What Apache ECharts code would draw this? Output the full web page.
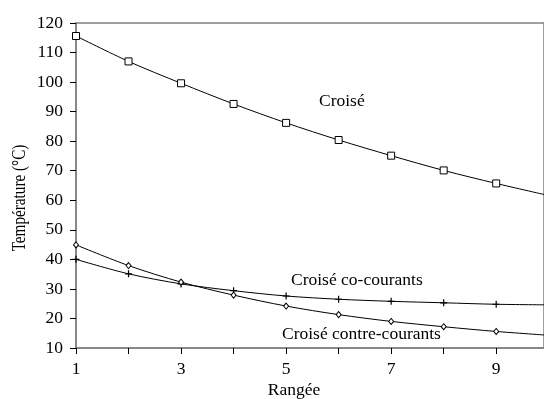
<!DOCTYPE html>
<html>
<head>
<meta charset="utf-8">
<script src="https://cdn.jsdelivr.net/npm/echarts@6/dist/echarts.min.js"></script>
<style>
  html, body { margin: 0; padding: 0; background: #fff; }
  #chart { width: 544px; height: 399px; }
</style>
</head>
<body>
<div id="chart"></div>
<script>
// Rangée (row number) along the x axis
const rangees = [1, 2, 3, 4, 5, 6, 7, 8, 9, 10];

// Température (°C) per row for each exchanger arrangement
const croise = [115.6, 107.0, 99.6, 92.6, 86.2, 80.4, 75.1, 70.1, 65.7, 61.6];
const croiseCoCourants = [40.0, 35.1, 31.7, 29.4, 27.6, 26.5, 25.8, 25.3, 24.8, 24.6];
const croiseContreCourants = [44.9, 37.9, 32.3, 27.9, 24.2, 21.3, 19.0, 17.2, 15.6, 14.3];

const yTicks = { min: 10, max: 120, step: 10 };
// the plot runs out at the right edge just before row 10
const xTicks = { min: 1, max: 9.91, step: 1 };

const serif = '"Liberation Serif", "DejaVu Serif", serif';
const axisGray = '#808080';

function pairs(values) {
  return rangees.map((r, i) => [r, values[i]]);
}

const chart = echarts.init(document.getElementById('chart'), null, { renderer: 'canvas' });

const baseSeries = {
  type: 'line',
  smooth: 0.3,
  lineStyle: { color: '#000', width: 1 },
  itemStyle: { color: '#fff', borderColor: '#000', borderWidth: 1 },
  emphasis: { disabled: true },
  animation: false,
  clip: true
};

chart.setOption({
  animation: false,
  grid: {
    left: 76, top: 23, right: 0, bottom: 51,
    show: true, borderColor: axisGray, borderWidth: 1.5, backgroundColor: 'transparent'
  },
  xAxis: {
    type: 'value',
    min: xTicks.min, max: xTicks.max, interval: xTicks.step,
    axisLine: { lineStyle: { color: axisGray, width: 1.5 } },
    axisTick: { show: true, inside: false, length: 6, lineStyle: { color: '#000', width: 1 } },
    splitLine: { show: false },
    axisLabel: {
      margin: 12, showMaxLabel: false,
      color: '#000', fontFamily: serif, fontSize: 17.5,
      formatter: v => (Number.isInteger(v) && v % 2 === 1 ? String(v) : '')
    }
  },
  yAxis: {
    type: 'value',
    min: yTicks.min, max: yTicks.max, interval: yTicks.step,
    axisLine: { show: true, lineStyle: { color: axisGray, width: 1.5 } },
    axisTick: { show: true, inside: false, length: 6, lineStyle: { color: '#000', width: 1 } },
    splitLine: { show: false },
    axisLabel: { margin: 13, color: '#000', fontFamily: serif, fontSize: 17.5 }
  },
  series: [
    Object.assign({}, baseSeries, {
      name: 'Croisé', data: pairs(croise),
      symbol: 'rect', symbolSize: 7
    }),
    Object.assign({}, baseSeries, {
      name: 'Croisé co-courants', data: pairs(croiseCoCourants),
      symbol: 'path://M5,0L5,10M0,5L10,5', symbolSize: 7,
      itemStyle: { color: 'none', borderColor: '#000', borderWidth: 1.2 }
    }),
    Object.assign({}, baseSeries, {
      name: 'Croisé contre-courants', data: pairs(croiseContreCourants),
      symbol: 'diamond', symbolSize: [5, 6]
    })
  ],
  graphic: [
    { type: 'text', left: 319, top: 92,
      style: { text: 'Croisé', font: '17.5px ' + serif, fill: '#000' } },
    { type: 'text', left: 291, top: 271,
      style: { text: 'Croisé co-courants', font: '17.5px ' + serif, fill: '#000' } },
    { type: 'text', left: 282, top: 325,
      style: { text: 'Croisé contre-courants', font: '17.5px ' + serif, fill: '#000' } },
    { type: 'text', x: 294, y: 390,
      style: { text: 'Rangée', font: '17.5px ' + serif, fill: '#000', align: 'center', verticalAlign: 'middle' } },
    { type: 'text', x: 20, y: 198, rotation: Math.PI / 2, scaleX: 0.8,
      style: { text: 'Température (°C)', font: '19px ' + serif, fill: '#000', align: 'center', verticalAlign: 'middle' } }
  ]
});
</script>
</body>
</html>
